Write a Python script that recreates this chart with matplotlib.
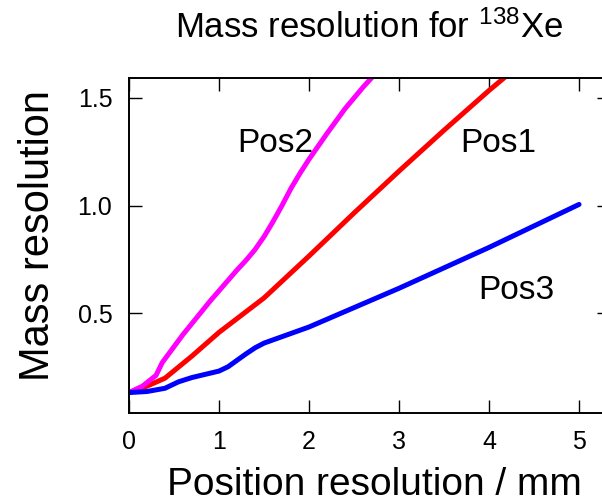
import numpy as np
import matplotlib
matplotlib.use("Agg")
import matplotlib.pyplot as plt

plt.rcParams['font.family'] = ['Liberation Sans', 'DejaVu Sans']
plt.rcParams['mathtext.default'] = 'regular'

# Pos1 (red)
pos1_x = [0, 0.2, 0.4, 0.7, 1.0, 1.5, 2.0, 2.5, 3.0, 3.5, 4.0, 4.2]
pos1_y = [0.13, 0.16, 0.197, 0.30, 0.41, 0.57, 0.765, 0.965, 1.16, 1.35, 1.535, 1.605]

# Pos2 (magenta)
pos2_x = [0, 0.15, 0.3, 0.37, 0.6, 0.9, 1.2, 1.3, 1.4, 1.5, 1.6, 1.7, 1.8, 1.9, 2.0,
          2.2, 2.4, 2.6, 2.72]
pos2_y = [0.13, 0.16, 0.21, 0.27, 0.40, 0.555, 0.70, 0.745, 0.795, 0.855, 0.925, 1.00,
          1.08, 1.15, 1.215, 1.335, 1.45, 1.55, 1.605]

# Pos3 (blue)
pos3_x = [0, 0.2, 0.4, 0.55, 0.7, 0.85, 1.0, 1.1, 1.2, 1.3, 1.4, 1.5, 1.7, 2.0, 2.5,
          3.0, 3.5, 4.0, 4.5, 5.0]
pos3_y = [0.13, 0.135, 0.15, 0.18, 0.20, 0.215, 0.23, 0.25, 0.28, 0.31, 0.338, 0.36,
          0.39, 0.435, 0.525, 0.615, 0.71, 0.805, 0.905, 1.005]

xticks = [0, 1, 2, 3, 4, 5]
yticks = [0.5, 1.0, 1.5]
ytick_labels = ["0.5", "1.0", "1.5"]

fig = plt.figure(figsize=(6.02, 5.04), dpi=100)
ax = fig.add_axes([129 / 602, 91 / 504, 481 / 602, 335 / 504])

ax.plot(pos1_x, pos1_y, color="#ff0000", lw=3.6, solid_capstyle="round")
ax.plot(pos2_x, pos2_y, color="#ff00ff", lw=3.6, solid_capstyle="round")
ax.plot(pos3_x, pos3_y, color="#0000ff", lw=3.6, solid_capstyle="round")

ax.text(1.2, 1.29, "Pos2", fontsize=24, va="center")
ax.text(3.68, 1.29, "Pos1", fontsize=24, va="center")
ax.text(3.88, 0.607, "Pos3", fontsize=24, va="center")

ax.set_xlim(0, 5.344)
ax.set_ylim(0.035, 1.593)
ax.set_xticks(xticks)
ax.set_yticks(yticks)
ax.set_yticklabels(ytick_labels)
ax.tick_params(direction="in", length=9.5, width=1, top=True, right=True, labelsize=18)
ax.tick_params(axis="x", pad=12)
ax.tick_params(axis="y", pad=12)
for s in ax.spines.values():
    s.set_linewidth(1.4)

ax.set_xlabel("Position resolution / mm", fontsize=28)
ax.set_ylabel("Mass resolution", fontsize=30)
ax.xaxis.set_label_coords(0.51, -0.16)
ax.yaxis.set_label_coords(-0.148, 0.531)
ax.set_title(r"Mass resolution for $^{138}$Xe", fontsize=25, pad=29)

fig.savefig("out.png", dpi=100)
